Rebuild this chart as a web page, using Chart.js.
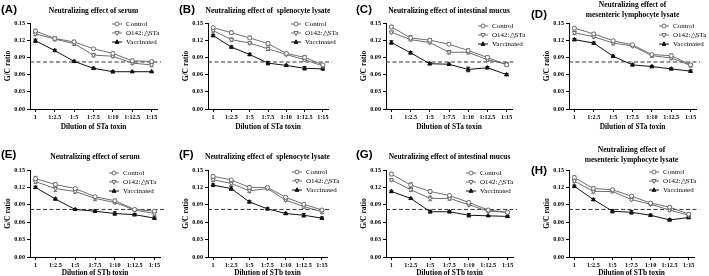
<!DOCTYPE html>
<html>
<head>
<meta charset="utf-8">
<script src="https://cdn.jsdelivr.net/npm/chart.js@4/dist/chart.umd.min.js"></script>
<style>
  html, body { margin: 0; padding: 0; background: #fff; }
  #wrap { position: relative; width: 709px; height: 276px; overflow: hidden; }
  canvas { position: absolute; }
</style>
</head>
<body>
<div id="wrap"></div>
<script>
const categories = ['1', '1:2.5', '1:5', '1:7.5', '1:10', '1:12.5', '1:15'];
const yTicks = [0, 0.03, 0.06, 0.09, 0.12, 0.15];
const seriesNames = ['Control', 'O142:\u25b3STa', 'Vaccinated'];
const cutoff = 0.082;

// STa toxin panels (mean, then error bar half-height)
const aControl = [0.136, 0.123, 0.117, 0.105, 0.097, 0.084, 0.083];
const aO142    = [0.131, 0.122, 0.114, 0.094, 0.092, 0.080, 0.077];
const aVacc    = [0.119, 0.102, 0.083, 0.071, 0.065, 0.065, 0.065];
const aControlErr = [0.003, 0.003, 0.003, 0.002, 0.002, 0.003, 0.002];
const aO142Err    = [0.003, 0.003, 0.003, 0.003, 0.002, 0.002, 0.003];
const aVaccErr    = [0.003, 0.002, 0.002, 0.002, 0.002, 0.001, 0.001];

const bControl = [0.142, 0.133, 0.124, 0.114, 0.097, 0.090, 0.077];
const bO142    = [0.137, 0.121, 0.115, 0.105, 0.095, 0.086, 0.075];
const bVacc    = [0.128, 0.108, 0.095, 0.080, 0.076, 0.071, 0.070];
const bControlErr = [0.002, 0.003, 0.003, 0.003, 0.002, 0.003, 0.002];
const bO142Err    = [0.003, 0.003, 0.002, 0.003, 0.002, 0.002, 0.002];
const bVaccErr    = [0.002, 0.002, 0.002, 0.003, 0.002, 0.003, 0.002];

const cControl = [0.143, 0.124, 0.120, 0.113, 0.102, 0.090, 0.077];
const cO142    = [0.134, 0.121, 0.116, 0.099, 0.099, 0.086, 0.078];
const cVacc    = [0.116, 0.098, 0.079, 0.078, 0.069, 0.072, 0.060];
const cControlErr = [0.003, 0.004, 0.003, 0.002, 0.003, 0.003, 0.002];
const cO142Err    = [0.002, 0.002, 0.002, 0.003, 0.003, 0.003, 0.003];
const cVaccErr    = [0.003, 0.002, 0.002, 0.002, 0.004, 0.002, 0.002];

const dControl = [0.141, 0.131, 0.119, 0.112, 0.095, 0.093, 0.077];
const dO142    = [0.133, 0.126, 0.115, 0.110, 0.093, 0.089, 0.076];
const dVacc    = [0.121, 0.115, 0.092, 0.077, 0.074, 0.070, 0.066];
const dControlErr = [0.002, 0.002, 0.002, 0.002, 0.002, 0.003, 0.002];
const dO142Err    = [0.003, 0.002, 0.003, 0.002, 0.003, 0.003, 0.003];
const dVaccErr    = [0.002, 0.002, 0.002, 0.002, 0.002, 0.002, 0.002];

// STb toxin panels
const eControl = [0.135, 0.125, 0.118, 0.104, 0.097, 0.082, 0.079];
const eO142    = [0.130, 0.118, 0.113, 0.101, 0.094, 0.081, 0.075];
const eVacc    = [0.120, 0.100, 0.082, 0.079, 0.075, 0.073, 0.067];
const eControlErr = [0.004, 0.003, 0.002, 0.002, 0.003, 0.002, 0.002];
const eO142Err    = [0.003, 0.005, 0.003, 0.004, 0.002, 0.002, 0.003];
const eVaccErr    = [0.002, 0.002, 0.001, 0.002, 0.003, 0.002, 0.002];

const fControl = [0.139, 0.133, 0.120, 0.120, 0.103, 0.091, 0.081];
const fO142    = [0.133, 0.127, 0.114, 0.118, 0.098, 0.087, 0.078];
const fVacc    = [0.124, 0.118, 0.095, 0.083, 0.075, 0.072, 0.067];
const fControlErr = [0.003, 0.002, 0.003, 0.002, 0.002, 0.002, 0.002];
const fO142Err    = [0.003, 0.003, 0.003, 0.002, 0.002, 0.003, 0.003];
const fVaccErr    = [0.002, 0.003, 0.002, 0.002, 0.002, 0.003, 0.002];

const gControl = [0.143, 0.124, 0.113, 0.106, 0.094, 0.081, 0.077];
const gO142    = [0.133, 0.116, 0.101, 0.101, 0.090, 0.079, 0.077];
const gVacc    = [0.113, 0.101, 0.078, 0.078, 0.072, 0.071, 0.070];
const gControlErr = [0.003, 0.004, 0.003, 0.002, 0.002, 0.002, 0.002];
const gO142Err    = [0.002, 0.003, 0.004, 0.003, 0.002, 0.002, 0.002];
const gVaccErr    = [0.002, 0.001, 0.002, 0.002, 0.003, 0.001, 0.002];

const hControl = [0.137, 0.118, 0.116, 0.105, 0.093, 0.086, 0.074];
const hO142    = [0.131, 0.113, 0.113, 0.099, 0.091, 0.081, 0.072];
const hVacc    = [0.122, 0.099, 0.079, 0.077, 0.072, 0.064, 0.068];
const hControlErr = [0.003, 0.003, 0.002, 0.002, 0.002, 0.002, 0.002];
const hO142Err    = [0.003, 0.003, 0.002, 0.002, 0.002, 0.002, 0.002];
const hVaccErr    = [0.002, 0.002, 0.003, 0.003, 0.002, 0.002, 0.002];

const SERIF = '"Liberation Serif", "Times New Roman", serif';
const SANS = '"Liberation Sans", Arial, sans-serif';
const H = 138;
const YW = 26;

const panels = [
  { letter: '(A)', left: 0,   top: 0,   w: 178, plotL: 30, plotR: 157, plotT: 23, plotB: 109, title: ['Neutralizing effect of serum'], titleY: 11, letterY: 10, legX: 126, legY: 24, toxin: 'STa', data: [aControl, aO142, aVacc], err: [aControlErr, aO142Err, aVaccErr] },
  { letter: '(B)', left: 178, top: 0,   w: 178, plotL: 30, plotR: 150, plotT: 23, plotB: 109, title: ['Neutralizing effect of  splenocyte lysate'], titleY: 11, letterY: 10, legX: 127, legY: 24, toxin: 'STa', data: [bControl, bO142, bVacc], err: [bControlErr, bO142Err, bVaccErr] },
  { letter: '(C)', left: 355, top: 0,   w: 178, plotL: 31, plotR: 157, plotT: 23, plotB: 109, title: ['Neutralizing effect of intestinal mucus'], titleY: 11, letterY: 10, legX: 137, legY: 26, toxin: 'STa', data: [cControl, cO142, cVacc], err: [cControlErr, cO142Err, cVaccErr] },
  { letter: '(D)', left: 530, top: 0,   w: 179, plotL: 39, plotR: 166, plotT: 23, plotB: 109, title: ['Neutralizing effect of', 'mesenteric lymphocyte lysate'], titleY: 5, letterY: 15, legX: 143, legY: 26, toxin: 'STa', data: [dControl, dO142, dVacc], err: [dControlErr, dO142Err, dVaccErr] },
  { letter: '(E)', left: 0,   top: 138, w: 178, plotL: 30, plotR: 160, plotT: 32, plotB: 119, title: ['Neutralizing effect of serum'], titleY: 19, letterY: 17, legX: 123, legY: 35, toxin: 'STb', data: [eControl, eO142, eVacc], err: [eControlErr, eO142Err, eVaccErr] },
  { letter: '(F)', left: 178, top: 138, w: 178, plotL: 30, plotR: 149, plotT: 32, plotB: 119, title: ['Neutralizing effect of  splenocyte lysate'], titleY: 19, letterY: 17, legX: 128, legY: 34, toxin: 'STb', data: [fControl, fO142, fVacc], err: [fControlErr, fO142Err, fVaccErr] },
  { letter: '(G)', left: 355, top: 138, w: 178, plotL: 31, plotR: 158, plotT: 32, plotB: 119, title: ['Neutralizing effect of intestinal mucus'], titleY: 19, letterY: 17, legX: 125, legY: 35, toxin: 'STb', data: [gControl, gO142, gVacc], err: [gControlErr, gO142Err, gVaccErr] },
  { letter: '(H)', left: 530, top: 138, w: 179, plotL: 39, plotR: 164, plotT: 32, plotB: 119, title: ['Neutralizing effect of', 'mesenteric lymphocyte lysate'], titleY: 12, letterY: 33, legX: 133, legY: 34, toxin: 'STb', data: [hControl, hO142, hVacc], err: [hControlErr, hO142Err, hVaccErr] }
];

const styles = [
  { color: '#6e6e6e', pointStyle: 'circle', fill: '#fff', radius: 2, rotation: 0 },
  { color: '#6e6e6e', pointStyle: 'triangle', fill: '#fff', radius: 2.4, rotation: 180 },
  { color: '#111', pointStyle: 'triangle', fill: '#111', radius: 2.2, rotation: 0 }
];

function drawMarker(ctx, st, x, y) {
  ctx.save();
  ctx.strokeStyle = st.color;
  ctx.fillStyle = st.fill;
  ctx.lineWidth = 1;
  ctx.beginPath();
  if (st.pointStyle === 'circle') {
    ctx.arc(x, y, st.radius, 0, Math.PI * 2);
  } else {
    const r = st.radius;
    const s = st.rotation === 180 ? -1 : 1;
    ctx.moveTo(x, y - s * r);
    ctx.lineTo(x + r * 0.9, y + s * r * 0.6);
    ctx.lineTo(x - r * 0.9, y + s * r * 0.6);
    ctx.closePath();
  }
  ctx.fill();
  ctx.stroke();
  ctx.restore();
}

const cutoffLine = {
  id: 'cutoffLine',
  beforeDatasetsDraw(chart) {
    const { ctx, chartArea, scales } = chart;
    const y = scales.y.getPixelForValue(cutoff);
    ctx.save();
    ctx.strokeStyle = '#333';
    ctx.lineWidth = 1;
    ctx.setLineDash([4, 2.5]);
    ctx.beginPath();
    ctx.moveTo(chartArea.left, y);
    ctx.lineTo(chartArea.right + 4, y);
    ctx.stroke();
    ctx.restore();
  }
};

const errorBars = {
  id: 'errorBars',
  beforeDatasetsDraw(chart) {
    const { ctx, scales } = chart;
    ctx.save();
    ctx.lineWidth = 1;
    chart.data.datasets.forEach(ds => {
      ctx.strokeStyle = ds.borderColor;
      ds.data.forEach((pt, j) => {
        const e = ds.errors[j];
        const x = scales.x.getPixelForValue(pt.x);
        const y1 = scales.y.getPixelForValue(pt.y + e);
        const y2 = scales.y.getPixelForValue(pt.y - e);
        ctx.beginPath();
        ctx.moveTo(x, y1);
        ctx.lineTo(x, y2);
        ctx.moveTo(x - 2, y1);
        ctx.lineTo(x + 2, y1);
        ctx.moveTo(x - 2, y2);
        ctx.lineTo(x + 2, y2);
        ctx.stroke();
      });
    });
    ctx.restore();
  }
};

const panelDecor = {
  id: 'panelDecor',
  afterDraw(chart) {
    const p = chart.options.plugins.panelDecor.panel;
    const { ctx, chartArea } = chart;
    ctx.save();
    ctx.fillStyle = '#000';
    ctx.textBaseline = 'middle';
    ctx.textAlign = 'left';
    ctx.font = 'bold 11.5px ' + SANS;
    ctx.fillText(p.letter, 1, p.letterY);

    ctx.textAlign = 'center';
    ctx.font = 'bold 7.5px ' + SERIF;
    const cx = (chartArea.left + chartArea.right) / 2;
    p.title.forEach((t, i) => ctx.fillText(t, cx, p.titleY + i * 10));

    ctx.textAlign = 'left';
    ctx.font = '7px ' + SERIF;
    chart.data.datasets.forEach((ds, i) => {
      const st = styles[i];
      const y = p.legY + i * 9;
      ctx.strokeStyle = st.color;
      ctx.lineWidth = 1;
      ctx.beginPath();
      ctx.moveTo(p.legX - 14, y);
      ctx.lineTo(p.legX - 4, y);
      ctx.stroke();
      drawMarker(ctx, st, p.legX - 9, y);
      ctx.fillStyle = '#000';
      ctx.fillText(ds.label, p.legX, y);
    });
    ctx.restore();
  }
};

const wrap = document.getElementById('wrap');

panels.forEach(p => {
  const canvas = document.createElement('canvas');
  canvas.width = p.w;
  canvas.height = H;
  canvas.style.left = p.left + 'px';
  canvas.style.top = p.top + 'px';
  canvas.style.width = p.w + 'px';
  canvas.style.height = H + 'px';
  wrap.appendChild(canvas);

  const datasets = p.data.map((vals, i) => ({
    label: seriesNames[i],
    data: vals.map((v, j) => ({ x: j, y: v })),
    errors: p.err[i],
    borderColor: styles[i].color,
    borderWidth: 1,
    pointStyle: styles[i].pointStyle,
    pointRotation: styles[i].rotation,
    pointRadius: styles[i].radius,
    pointBackgroundColor: styles[i].fill,
    pointBorderColor: styles[i].color,
    pointBorderWidth: 1,
    tension: 0
  }));

  new Chart(canvas.getContext('2d'), {
    type: 'line',
    data: { datasets },
    plugins: [cutoffLine, errorBars, panelDecor],
    options: {
      responsive: false,
      animation: false,
      devicePixelRatio: 1,
      layout: { padding: { left: p.plotL - YW, right: p.w - p.plotR, top: p.plotT, bottom: 0 } },
      plugins: {
        legend: { display: false },
        tooltip: { enabled: false },
        panelDecor: { panel: p }
      },
      scales: {
        x: {
          type: 'linear',
          min: -0.28,
          max: 6.28,
          afterFit: s => { s.height = H - p.plotB; },
          afterBuildTicks: s => { s.ticks = categories.map((c, i) => ({ value: i })); },
          ticks: {
            callback: v => categories[v],
            autoSkip: false,
            maxRotation: 0,
            color: '#000',
            padding: 2,
            font: { family: SERIF, size: 6.2, weight: 'bold' }
          },
          grid: { drawOnChartArea: false, tickLength: 3, color: '#000' },
          border: { color: '#000', width: 1 },
          title: {
            display: true,
            text: 'Dilution of ' + p.toxin + ' toxin',
            color: '#000',
            padding: { top: 0, bottom: p.top === 0 ? 6.5 : -1.5 },
            font: { family: SERIF, size: 7.4, weight: 'bold' }
          }
        },
        y: {
          min: 0,
          max: 0.15,
          afterFit: s => { s.width = YW; },
          afterBuildTicks: s => { s.ticks = yTicks.map(v => ({ value: v })); },
          ticks: {
            callback: v => v.toFixed(2),
            color: '#000',
            padding: 2,
            font: { family: SERIF, size: 6.2, weight: 'bold' }
          },
          grid: { drawOnChartArea: false, tickLength: 3, color: '#000' },
          border: { color: '#000', width: 1 },
          title: {
            display: true,
            text: 'G/C ratio',
            color: '#000',
            padding: 0,
            font: { family: SERIF, size: 7.5, weight: 'bold' }
          }
        }
      }
    }
  });
});
</script>
</body>
</html>
